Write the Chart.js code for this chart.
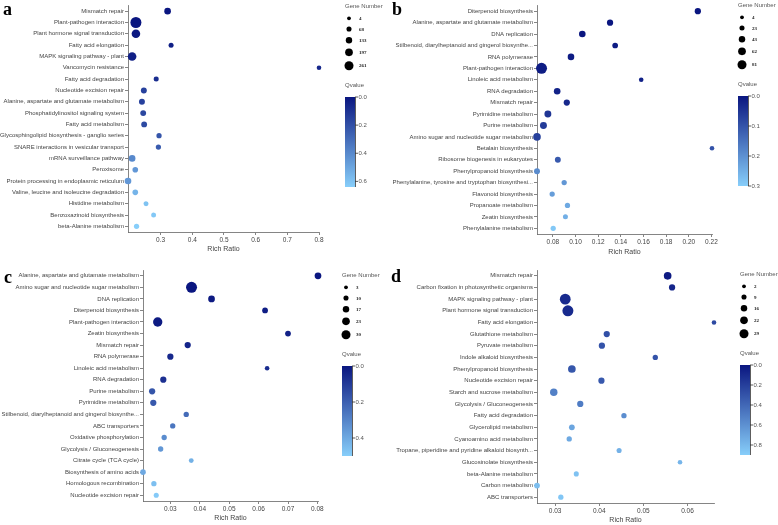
<!DOCTYPE html>
<html>
<head>
<meta charset="utf-8">
<script src="https://cdn.jsdelivr.net/npm/chart.js@4.4.0/dist/chart.umd.min.js"></script>
<style>
    body { margin: 0; background: #fff; }
    #page { position: relative; width: 778px; height: 525px; overflow: hidden; }
    .panel { position: absolute; }
    .tag { position: absolute; font: bold 18px 'Liberation Serif', 'DejaVu Serif', serif; color: #000; line-height: 18px; }
</style>
</head>
<body>
<div id="page">
    <div class="panel" style="left:0;top:0;width:389px;height:260px"><canvas id="chartA"></canvas></div>
    <div class="panel" style="left:389px;top:0;width:389px;height:260px"><canvas id="chartB"></canvas></div>
    <div class="panel" style="left:0;top:260px;width:389px;height:265px"><canvas id="chartC"></canvas></div>
    <div class="panel" style="left:389px;top:260px;width:389px;height:265px"><canvas id="chartD"></canvas></div>
    <div class="tag" style="left:3px;top:0px">a</div>
    <div class="tag" style="left:392px;top:0px">b</div>
    <div class="tag" style="left:4px;top:268px">c</div>
    <div class="tag" style="left:391px;top:267px">d</div>
</div>
<script>
// --- panel a ---
const aPathways = ['Mismatch repair', 'Plant-pathogen interaction', 'Plant hormone signal transduction', 'Fatty acid elongation',
    'MAPK signaling pathway - plant', 'Vancomycin resistance', 'Fatty acid degradation', 'Nucleotide excision repair',
    'Alanine, aspartate and glutamate metabolism', 'Phosphatidylinositol signaling system', 'Fatty acid metabolism',
    'Glycosphingolipid biosynthesis - ganglio series', 'SNARE interactions in vesicular transport', 'mRNA surveillance pathway',
    'Peroxisome', 'Protein processing in endoplasmic reticulum', 'Valine, leucine and isoleucine degradation',
    'Histidine metabolism', 'Benzoxazinoid biosynthesis', 'beta-Alanine metabolism'];
const aRatio = [0.322, 0.222, 0.222, 0.333, 0.21, 0.8, 0.286, 0.247, 0.241, 0.245, 0.248, 0.295, 0.293, 0.21, 0.22, 0.197, 0.22, 0.254, 0.278, 0.224];
const aGenes = [86, 261, 164, 20, 164, 4, 20, 58, 58, 55, 55, 30, 30, 85, 45, 85, 45, 20, 20, 30];
const aQvalue = [0.0, 0.0, 0.01, 0.03, 0.03, 0.06, 0.08, 0.15, 0.15, 0.17, 0.18, 0.22, 0.24, 0.4, 0.45, 0.45, 0.55, 0.6, 0.62, 0.64];
const aXTicks = [0.3, 0.4, 0.5, 0.6, 0.7, 0.8];
const aGeneTicks = [4, 68, 133, 197, 261];
const aQTicks = [0.0, 0.2, 0.4, 0.6];
const aQMax = 0.64;

// --- panel b ---
const bPathways = ['Diterpenoid biosynthesis', 'Alanine, aspartate and glutamate metabolism', 'DNA replication',
    'Stilbenoid, diarylheptanoid and gingerol biosynthe...', 'RNA polymerase', 'Plant-pathogen interaction',
    'Linoleic acid metabolism', 'RNA degradation', 'Mismatch repair', 'Pyrimidine metabolism', 'Purine metabolism',
    'Amino sugar and nucleotide sugar metabolism', 'Betalain biosynthesis', 'Ribosome biogenesis in eukaryotes',
    'Phenylpropanoid biosynthesis', 'Phenylalanine, tyrosine and tryptophan biosynthesi...', 'Flavonoid biosynthesis',
    'Propanoate metabolism', 'Zeatin biosynthesis', 'Phenylalanine metabolism'];
const bRatio = [0.208, 0.1305, 0.106, 0.135, 0.096, 0.07, 0.158, 0.0838, 0.0923, 0.0756, 0.0717, 0.066, 0.2205, 0.0844, 0.066, 0.09, 0.0794, 0.0929, 0.0911, 0.0803];
const bGenes = [24, 24, 28, 17, 28, 81, 4, 28, 24, 32, 32, 40, 4, 20, 20, 12, 12, 12, 9, 12];
const bQvalue = [0.0, 0.0, 0.0, 0.01, 0.01, 0.01, 0.02, 0.02, 0.03, 0.05, 0.06, 0.07, 0.1, 0.11, 0.19, 0.21, 0.22, 0.24, 0.25, 0.29];
const bXTicks = [0.08, 0.10, 0.12, 0.14, 0.16, 0.18, 0.20, 0.22];
const bGeneTicks = [4, 23, 43, 62, 81];
const bQTicks = [0.0, 0.1, 0.2, 0.3];
const bQMax = 0.3;

// --- panel c ---
const cPathways = ['Alanine, aspartate and glutamate metabolism', 'Amino sugar and nucleotide sugar metabolism', 'DNA replication',
    'Diterpenoid biosynthesis', 'Plant-pathogen interaction', 'Zeatin biosynthesis', 'Mismatch repair', 'RNA polymerase',
    'Linoleic acid metabolism', 'RNA degradation', 'Purine metabolism', 'Pyrimidine metabolism',
    'Stilbenoid, diarylheptanoid and gingerol biosynthe...', 'ABC transporters', 'Oxidative phosphorylation',
    'Glycolysis / Gluconeogenesis', 'Citrate cycle (TCA cycle)', 'Biosynthesis of amino acids', 'Homologous recombination',
    'Nucleotide excision repair'];
const cRatio = [0.0802, 0.0372, 0.044, 0.0622, 0.0257, 0.07, 0.0359, 0.03, 0.0629, 0.0276, 0.0238, 0.0242, 0.0354, 0.0308, 0.0279, 0.0267, 0.0371, 0.0207, 0.0244, 0.0252];
const cGenes = [12, 30, 12, 8, 23, 8, 10, 10, 3, 10, 10, 10, 6, 6, 6, 6, 4, 7, 6, 5];
const cQvalue = [0.0, 0.0, 0.01, 0.02, 0.01, 0.03, 0.04, 0.05, 0.06, 0.07, 0.17, 0.18, 0.23, 0.26, 0.32, 0.35, 0.42, 0.4, 0.46, 0.49];
const cXTicks = [0.03, 0.04, 0.05, 0.06, 0.07, 0.08];
const cGeneTicks = [3, 10, 17, 23, 30];
const cQTicks = [0.0, 0.2, 0.4];
const cQMax = 0.5;

// --- panel d ---
const dPathways = ['Mismatch repair', 'Carbon fixation in photosynthetic organisms', 'MAPK signaling pathway - plant',
    'Plant hormone signal transduction', 'Fatty acid elongation', 'Glutathione metabolism', 'Pyruvate metabolism',
    'Indole alkaloid biosynthesis', 'Phenylpropanoid biosynthesis', 'Nucleotide excision repair',
    'Starch and sucrose metabolism', 'Glycolysis / Gluconeogenesis', 'Fatty acid degradation', 'Glycerolipid metabolism',
    'Cyanoamino acid metabolism', 'Tropane, piperidine and pyridine alkaloid biosynth...', 'Glucosinolate biosynthesis',
    'beta-Alanine metabolism', 'Carbon metabolism', 'ABC transporters'];
const dRatio = [0.0555, 0.0565, 0.0323, 0.0329, 0.066, 0.0417, 0.0406, 0.0527, 0.0338, 0.0405, 0.0297, 0.0357, 0.0456, 0.0338, 0.0332, 0.0445, 0.0583, 0.0348, 0.0259, 0.0313];
const dGenes = [15, 9, 28, 29, 2, 9, 9, 5, 15, 9, 14, 9, 5, 7, 5, 4, 2, 4, 7, 5];
const dQvalue = [0.02, 0.08, 0.1, 0.1, 0.25, 0.28, 0.3, 0.3, 0.32, 0.33, 0.52, 0.5, 0.58, 0.7, 0.72, 0.76, 0.78, 0.84, 0.82, 0.86];
const dXTicks = [0.03, 0.04, 0.05, 0.06];
const dGeneTicks = [2, 9, 16, 22, 29];
const dQTicks = [0.0, 0.2, 0.4, 0.6, 0.8];
const dQMax = 0.9;

Chart.defaults.font.family = "'Liberation Sans', Arial, sans-serif";

const darkBlue = [10, 22, 128];
const lightBlue = [135, 206, 250];
const axisColor = '#666';
const labelColor = '#444';

function qColor(q, qMax) {
    const t = Math.max(0, Math.min(1, q / qMax));
    const c = darkBlue.map((d, i) => Math.round(d + (lightBlue[i] - d) * t));
    return `rgb(${c[0]}, ${c[1]}, ${c[2]})`;
}

// bubble radius scales linearly between the smallest and largest legend value
function geneRadius(g, geneTicks) {
    const lo = geneTicks[0], hi = geneTicks[geneTicks.length - 1];
    return 2.3 + (g - lo) / (hi - lo) * 3.2;
}

// Gene Number + Qvalue legends drawn beside the plot
const bubbleLegend = {
    id: 'bubbleLegend',
    afterDraw(chart, args, opts) {
        const ctx = chart.ctx;
        const lx = opts.lx, ly = opts.ly;
        const rowOffsets = [12.3, 23, 34.3, 46.3, 59.7];
        ctx.save();
        ctx.textBaseline = 'middle';
        ctx.textAlign = 'left';
        ctx.fillStyle = '#555';
        ctx.font = "6px 'Liberation Sans', Arial, sans-serif";
        ctx.fillText('Gene Number', lx, ly);

        opts.genes.forEach((g, i) => {
            const y = ly + rowOffsets[i];
            ctx.beginPath();
            // legend symbols are drawn a little smaller than the plotted bubbles
            ctx.arc(lx + 4, y, geneRadius(g, opts.genes) * 0.82, 0, Math.PI * 2);
            ctx.fillStyle = '#000';
            ctx.fill();
            ctx.font = "bold 5px 'Liberation Serif', serif";
            ctx.fillStyle = '#222';
            ctx.fillText(String(g), lx + 14, y + 0.5);
        });

        ctx.font = "6px 'Liberation Sans', Arial, sans-serif";
        ctx.fillStyle = '#555';
        ctx.fillText('Qvalue', lx, ly + 79);

        const barTop = ly + 91, barH = 90, barW = 10;
        const grad = ctx.createLinearGradient(0, barTop, 0, barTop + barH);
        grad.addColorStop(0, qColor(0, 1));
        grad.addColorStop(1, qColor(1, 1));
        ctx.fillStyle = grad;
        ctx.fillRect(lx, barTop, barW, barH);

        ctx.strokeStyle = '#333';
        ctx.lineWidth = 0.8;
        ctx.beginPath();
        ctx.moveTo(lx + barW + 0.5, barTop);
        ctx.lineTo(lx + barW + 0.5, barTop + barH);
        ctx.stroke();

        ctx.fillStyle = '#555';
        ctx.font = "6px 'Liberation Sans', Arial, sans-serif";
        opts.qTicks.forEach(q => {
            const y = barTop + q / opts.qMax * barH;
            ctx.beginPath();
            ctx.moveTo(lx + barW, y);
            ctx.lineTo(lx + barW + 3, y);
            ctx.stroke();
            ctx.fillText(q.toFixed(1), lx + barW + 3.5, y);
        });
        ctx.restore();
    }
};

function buildChart(canvasId, p) {
    const ctx = document.getElementById(canvasId);
    if (!ctx) return;
    new Chart(ctx, {
        type: 'bubble',
        data: {
            datasets: [{
                data: p.pathways.map((name, i) => ({
                    x: p.ratio[i],
                    y: name,
                    r: geneRadius(p.genes[i], p.geneTicks)
                })),
                backgroundColor: p.qvalue.map(q => qColor(q, p.qMax)),
                borderWidth: 0,
                clip: false
            }]
        },
        options: {
            responsive: true,
            maintainAspectRatio: false,
            animation: false,
            events: [],
            layout: { padding: { top: p.top, right: p.right, bottom: 0, left: 0 } },
            plugins: {
                legend: { display: false },
                tooltip: { enabled: false },
                bubbleLegend: { genes: p.geneTicks, qTicks: p.qTicks, qMax: p.qMax, lx: p.lx, ly: p.ly }
            },
            scales: {
                x: {
                    type: 'linear',
                    min: Math.min(...p.ratio),
                    max: Math.max(...p.ratio),
                    afterBuildTicks: s => { s.ticks = p.xTicks.map(v => ({ value: v })); },
                    afterFit: s => { s.height = p.xHeight; s.paddingLeft = 0; s.paddingRight = 0; },
                    grid: { drawOnChartArea: false, tickLength: 3, color: axisColor, lineWidth: 0.8 },
                    border: { color: axisColor, width: 0.8 },
                    ticks: {
                        font: { size: 6.5 },
                        color: labelColor,
                        padding: 1,
                        maxRotation: 0,
                        autoSkip: false,
                        callback: v => Number(v).toFixed(p.xDec)
                    },
                    title: {
                        display: true,
                        text: 'Rich Ratio',
                        font: { size: 7 },
                        color: labelColor,
                        padding: { top: 0, bottom: p.titlePad }
                    }
                },
                y: {
                    type: 'category',
                    labels: p.pathways,
                    offset: true,
                    afterFit: s => { s.width = p.yWidth; s.paddingTop = 0; s.paddingBottom = 0; },
                    grid: { drawOnChartArea: false, tickLength: 3, color: axisColor, lineWidth: 0.8 },
                    border: { color: axisColor, width: 0.8 },
                    ticks: { autoSkip: false, font: { size: 6 }, color: labelColor, padding: 1 }
                }
            }
        },
        plugins: [bubbleLegend]
    });
}

document.addEventListener('DOMContentLoaded', () => {
    buildChart('chartA', {
        pathways: aPathways, ratio: aRatio, genes: aGenes, qvalue: aQvalue,
        xTicks: aXTicks, geneTicks: aGeneTicks, qTicks: aQTicks, qMax: aQMax, xDec: 1,
        yWidth: 128, top: 2, right: 70, xHeight: 28, titlePad: 6.8, lx: 345, ly: 6
    });
    buildChart('chartB', {
        pathways: bPathways, ratio: bRatio, genes: bGenes, qvalue: bQvalue,
        xTicks: bXTicks, geneTicks: bGeneTicks, qTicks: bQTicks, qMax: bQMax, xDec: 2,
        yWidth: 148, top: 1, right: 66, xHeight: 26, titlePad: 4, lx: 349, ly: 5
    });
    buildChart('chartC', {
        pathways: cPathways, ratio: cRatio, genes: cGenes, qvalue: cQvalue,
        xTicks: cXTicks, geneTicks: cGeneTicks, qTicks: cQTicks, qMax: cQMax, xDec: 2,
        yWidth: 143, top: 10, right: 71, xHeight: 24, titlePad: 2.8, lx: 342, ly: 15
    });
    buildChart('chartD', {
        pathways: dPathways, ratio: dRatio, genes: dGenes, qvalue: dQvalue,
        xTicks: dXTicks, geneTicks: dGeneTicks, qTicks: dQTicks, qMax: dQMax, xDec: 2,
        yWidth: 148, top: 10, right: 64, xHeight: 22, titlePad: 0.5, lx: 351, ly: 14
    });
});
</script>
</body>
</html>
